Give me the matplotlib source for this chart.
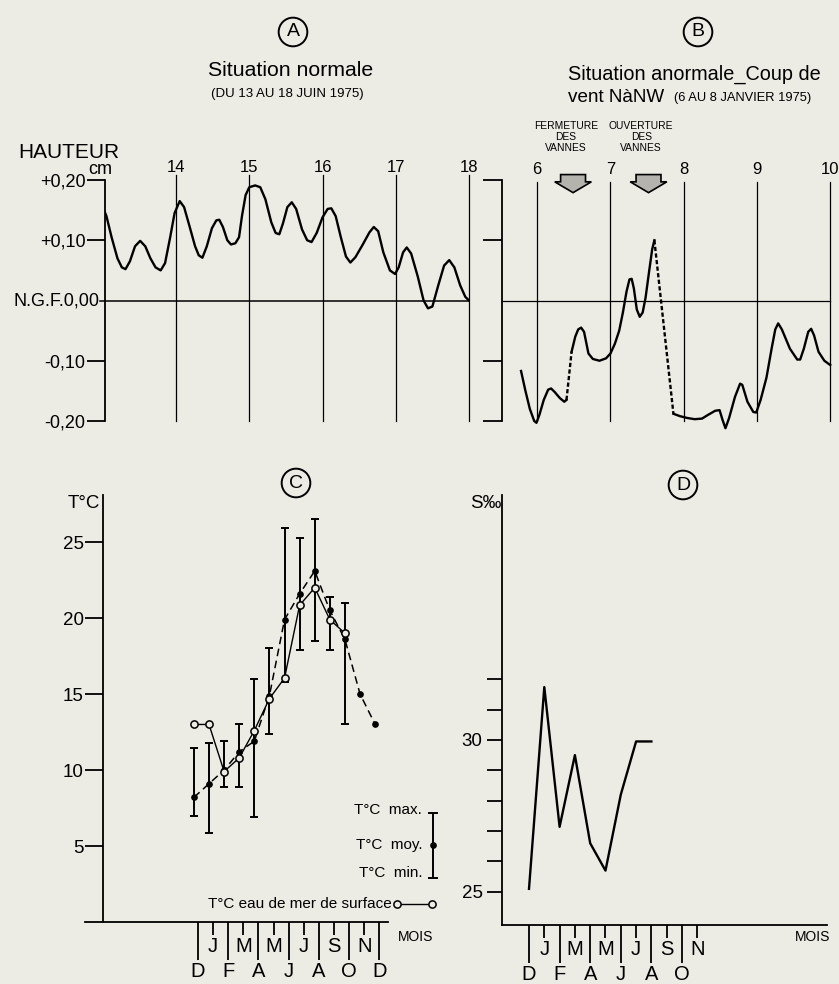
import numpy as np
import matplotlib.pyplot as plt
from matplotlib.patches import Polygon
from matplotlib.lines import Line2D

W, H = 839, 984
BG = '#ecebe4'
plt.rcParams['font.family'] = ['Liberation Sans', 'DejaVu Sans']

# --- A : situation normale (13-18 juin 1975), hauteur d'eau en m
a_day = [13.00, 13.05, 13.12, 13.20, 13.26, 13.31, 13.37, 13.44, 13.51, 13.58, 13.65, 13.72,
         13.79, 13.85, 13.92, 13.98, 14.05, 14.11, 14.18, 14.26, 14.31, 14.36, 14.42, 14.49,
         14.55, 14.59, 14.64, 14.70, 14.75, 14.81, 14.86, 14.90, 14.95, 15.00, 15.08, 15.15,
         15.22, 15.30, 15.36, 15.41, 15.46, 15.52, 15.58, 15.64, 15.72, 15.79, 15.85, 15.92,
         16.00, 16.07, 16.12, 16.18, 16.25, 16.32, 16.38, 16.45, 16.55, 16.64, 16.70, 16.76,
         16.83, 16.92, 16.99, 17.04, 17.10, 17.15, 17.21, 17.30, 17.38, 17.44, 17.50, 17.58,
         17.66, 17.73, 17.80, 17.88, 17.95, 18.00]
a_val = [0.155, 0.140, 0.105, 0.070, 0.055, 0.052, 0.065, 0.090, 0.099, 0.090, 0.070, 0.055,
         0.050, 0.062, 0.105, 0.145, 0.165, 0.155, 0.125, 0.090, 0.075, 0.071, 0.090, 0.120,
         0.133, 0.134, 0.122, 0.100, 0.093, 0.095, 0.105, 0.140, 0.175, 0.188, 0.191, 0.188,
         0.168, 0.130, 0.112, 0.110, 0.128, 0.155, 0.163, 0.152, 0.118, 0.100, 0.097, 0.112,
         0.138, 0.152, 0.153, 0.140, 0.105, 0.073, 0.063, 0.072, 0.093, 0.113, 0.122, 0.115,
         0.080, 0.050, 0.044, 0.055, 0.080, 0.088, 0.078, 0.040, 0.000, -0.013, -0.010, 0.025,
         0.058, 0.067, 0.055, 0.025, 0.006, 0.000]
a_days = [14, 15, 16, 17, 18]
h_ticks = [0.20, 0.10, -0.10, -0.20]
h_labels = ['+0,20', '+0,10', '-0,10', '-0,20']
h_zero_label = 'N.G.F.0,00'

# --- B : coup de vent N a NW (6-8 janvier 1975), three recorded pieces
b1_day = [5.78, 5.84, 5.90, 5.96, 5.99, 6.03, 6.09, 6.15, 6.19, 6.24, 6.31, 6.37, 6.40]
b1_val = [-0.117, -0.150, -0.180, -0.200, -0.203, -0.190, -0.165, -0.148, -0.146, -0.152,
          -0.162, -0.168, -0.165]
b2_day = [6.47, 6.52, 6.56, 6.60, 6.64, 6.67, 6.70, 6.76, 6.85, 6.94, 7.00, 7.06, 7.12,
          7.17, 7.22, 7.26, 7.29, 7.32, 7.36, 7.40, 7.44, 7.48, 7.53, 7.57, 7.60]
b2_val = [-0.085, -0.060, -0.048, -0.045, -0.052, -0.070, -0.088, -0.097, -0.100, -0.096,
          -0.088, -0.072, -0.050, -0.020, 0.015, 0.035, 0.036, 0.020, -0.015, -0.027,
          -0.020, 0.005, 0.050, 0.085, 0.100]
b3_day = [7.86, 7.95, 8.05, 8.15, 8.25, 8.33, 8.43, 8.49, 8.53, 8.57, 8.62, 8.70, 8.77,
          8.80, 8.87, 8.95, 8.99, 9.05, 9.13, 9.20, 9.25, 9.29, 9.34, 9.45, 9.55, 9.59,
          9.64, 9.70, 9.74, 9.78, 9.84, 9.92, 10.00]
b3_val = [-0.188, -0.192, -0.195, -0.197, -0.196, -0.190, -0.183, -0.182, -0.198, -0.212,
          -0.195, -0.160, -0.138, -0.140, -0.168, -0.185, -0.186, -0.165, -0.128, -0.080,
          -0.048, -0.038, -0.048, -0.080, -0.098, -0.098, -0.080, -0.052, -0.047, -0.058,
          -0.085, -0.100, -0.107]
b_days = [6, 7, 8, 9, 10]
vannes_day = [6.49, 7.52]
vannes_txt = ['FERMETURE\nDES\nVANNES', 'OUVERTURE\nDES\nVANNES']

# --- C : temperatures (mois, D = 0)
c_month = list(range(13))
c_mean = [8.2, 9.1, 10.0, 11.2, 11.9, 14.9, 19.9, 21.6, 23.1, 20.5, 18.6, 15.0, 13.0]
c_max = [11.45, 11.8, 11.9, 13.0, 16.0, 18.0, 25.9, 25.3, 26.5, 21.4, 21.0]
c_min = [7.0, 5.85, 8.9, 8.9, 6.9, 12.4, 15.8, 17.9, 18.5, 17.9, 13.0]
c_sea = [13.0, 13.0, 9.9, 10.8, 12.6, 14.7, 16.05, 20.85, 22.0, 19.9, 19.0]

# --- D : salinite
d_month = [0, 1, 2, 3, 4, 5, 6, 7, 8]
d_sal = [25.1, 31.74, 27.14, 29.5, 26.6, 25.7, 28.2, 29.95, 29.95]

month_major = ['D', 'F', 'A', 'J', 'A', 'O', 'D']
month_minor = ['J', 'M', 'M', 'J', 'S', 'N']

fig = plt.figure(figsize=(W / 100, H / 100), dpi=100, facecolor=BG)


def box(x0, y0, x1, y1):
    return [x0 / W, 1 - y1 / H, (x1 - x0) / W, (y1 - y0) / H]


def ftext(x, y, s, **kw):
    kw.setdefault('ha', 'center')
    kw.setdefault('va', 'center')
    fig.text(x / W, 1 - y / H, s, **kw)


def bare(ax):
    ax.set_facecolor('none')
    for s in ['top', 'right', 'bottom']:
        ax.spines[s].set_visible(False)
    ax.spines['left'].set_linewidth(1.3)


LW = 1.7
GL = 0.9

# ---------------- A
axA = fig.add_axes(box(105, 180, 469, 421))
bare(axA)
axA.set_xlim(13.03, 18.0)
axA.set_ylim(-0.2, 0.2)
axA.set_xticks([])
axA.set_yticks(h_ticks)
axA.set_yticklabels(h_labels)
axA.tick_params(axis='y', direction='out', length=13, width=1.3, pad=1, labelsize=13)
axA.plot([12.96, 18.0], [0, 0], color='k', lw=1.1, clip_on=False)
axA.text(12.95, 0, h_zero_label, ha='right', va='center', fontsize=13)
for d in a_days:
    axA.plot([d, d], [-0.2, 0.208], color='k', lw=GL, clip_on=False)
    axA.text(d, 0.221, str(d), ha='center', va='center', fontsize=12)
axA.plot(a_day, a_val, color='k', lw=LW, solid_joinstyle='round')

# ---------------- B
axB = fig.add_axes(box(502, 180, 839, 421))
bare(axB)
axB.set_xlim(5.52, 10.12)
axB.set_ylim(-0.2, 0.2)
axB.set_xticks([])
axB.set_yticks([0.2, 0.1, -0.1, -0.2])
axB.set_yticklabels([])
axB.tick_params(axis='y', direction='out', length=14, width=1.3)
axB.plot([5.52, 10.0], [0, 0], color='k', lw=GL)
for d in b_days:
    axB.plot([d, d], [-0.2, 0.197], color='k', lw=GL, clip_on=False)
    axB.text(d, 0.218, str(d), ha='center', va='center', fontsize=12, clip_on=False)
for xs, ys in [(b1_day, b1_val), (b2_day, b2_val), (b3_day, b3_val)]:
    axB.plot(xs, ys, color='k', lw=LW, solid_joinstyle='round', clip_on=False)
for (x0, y0), (x1, y1) in [((b1_day[-1], b1_val[-1]), (b2_day[0], b2_val[0])),
                           ((b2_day[-1], b2_val[-1]), (b3_day[0], b3_val[0]))]:
    axB.plot([x0, x1], [y0, y1], color='k', lw=LW, ls=(0, (1.8, 1.0)))
for xc, txt in zip(vannes_day, vannes_txt):
    sw, hw = 0.17, 0.25
    pts = [(xc - sw, 0.209), (xc + sw, 0.209), (xc + sw, 0.197), (xc + hw, 0.197),
           (xc, 0.179), (xc - hw, 0.197), (xc - sw, 0.197)]
    axB.add_patch(Polygon(pts, closed=True, fc='#b4b3ad', ec='k', lw=1.2, clip_on=False))
    axB.text(xc - 0.1, 0.272, txt, ha='center', va='center', fontsize=7.4,
             linespacing=1.12, clip_on=False)

# ---------------- C
axC = fig.add_axes(box(85, 495, 388, 922))
axC.set_facecolor('none')
for s in ['top', 'right']:
    axC.spines[s].set_visible(False)
axC.spines['left'].set_position(('axes', 0.0594))
axC.spines['left'].set_linewidth(1.3)
axC.spines['bottom'].set_linewidth(1.3)
axC.set_xlim(-7.48, 12.58)
axC.set_ylim(0, 28.1)
axC.set_yticks([5, 10, 15, 20, 25])
axC.tick_params(axis='y', direction='out', length=13, width=1.3, pad=1, labelsize=13.5)
axC.set_xticks(range(0, 13, 2))
axC.set_xticklabels(month_major)
axC.set_xticks(range(1, 12, 2), minor=True)
axC.set_xticklabels(month_minor, minor=True)
axC.tick_params(axis='x', which='major', direction='out', length=27, width=1.3, pad=2, labelsize=14.5)
axC.tick_params(axis='x', which='minor', direction='out', length=9.5, width=1.3, pad=1, labelsize=14.5)

xc = np.array(c_month) - 0.27
n = len(c_max)
lo = np.array(c_mean[:n]) - np.array(c_min)
hi = np.array(c_max) - np.array(c_mean[:n])
axC.errorbar(xc[:n], c_mean[:n], yerr=[lo, hi], fmt='none', ecolor='k', elinewidth=1.4,
             capsize=3.2, capthick=1.4)
axC.plot(xc, c_mean, color='k', lw=1.1, ls=(0, (5, 3)), marker='o', ms=3.8, mfc='k', mec='k')
axC.plot(xc[:n], c_sea, color='k', lw=1.0, marker='o', ms=5.2, mfc=BG, mec='k', mew=1.1, zorder=5)

# ---------------- D
axD = fig.add_axes(box(502, 495, 827, 925))
axD.set_facecolor('none')
for s in ['top', 'right']:
    axD.spines[s].set_visible(False)
axD.spines['left'].set_linewidth(1.3)
axD.spines['bottom'].set_linewidth(1.3)
axD.set_xlim(-1.765, 19.48)
axD.set_ylim(23.91, 38.06)
axD.set_yticks([25, 30])
axD.set_yticks([26, 27, 28, 29, 31, 32], minor=True)
axD.tick_params(axis='y', which='both', direction='out', length=11, width=1.3, pad=3, labelsize=13.5)
axD.set_xticks(range(0, 12, 2))
axD.set_xticklabels(month_major[:6])
axD.set_xticks(range(1, 12, 2), minor=True)
axD.set_xticklabels(month_minor, minor=True)
axD.tick_params(axis='x', which='major', direction='out', length=27, width=1.3, pad=2, labelsize=14.5)
axD.tick_params(axis='x', which='minor', direction='out', length=9.5, width=1.3, pad=1, labelsize=14.5)
axD.plot(d_month, d_sal, color='k', lw=1.7)

# ---------------- texts
circ = dict(boxstyle='circle,pad=0.3', fc='none', ec='k', lw=1.4)
for x, y, s in [(293, 32, 'A'), (698, 32, 'B'), (296, 483, 'C'), (683, 485, 'D')]:
    ftext(x, y, s, fontsize=14, bbox=circ)

ftext(291, 71, 'Situation normale', fontsize=15.3)
ftext(287, 94, '(DU 13 AU 18 JUIN 1975)', fontsize=9.5)
ftext(568, 74, 'Situation anormale_Coup de', fontsize=14.3, ha='left')
ftext(568, 97, 'vent NàNW', fontsize=13.6, ha='left')
ftext(674, 98, '(6 AU 8 JANVIER 1975)', fontsize=9.3, ha='left')

ftext(18, 153, 'HAUTEUR', fontsize=15, ha='left')
ftext(100, 170, 'cm', fontsize=13)
ftext(100, 503, 'T°C', fontsize=13.5, ha='right')
ftext(501, 503, 'S‰', fontsize=13.5, ha='right')
ftext(398, 937, 'MOIS', fontsize=10, ha='left')
ftext(830, 937, 'MOIS', fontsize=10, ha='right')

# legend of C
ftext(422, 810, 'T°C  max.', fontsize=11, ha='right')
ftext(422, 845, 'T°C  moy.', fontsize=11, ha='right')
ftext(422, 873, 'T°C  min.', fontsize=11, ha='right')
ftext(392, 904, 'T°C eau de mer de surface', fontsize=11, ha='right')


def fl(xs, ys, **kw):
    fig.add_artist(Line2D([x / W for x in xs], [1 - y / H for y in ys], color='k', **kw))


fl([433, 433], [813, 878], lw=1.4)
fl([429, 437], [813, 813], lw=1.4)
fl([429, 437], [878, 878], lw=1.4)
fl([433], [845], marker='o', ms=3.8, ls='none')
fl([397, 432], [904, 904], lw=1.0, marker='o', ms=5.2, mfc=BG, mew=1.1)

fig.savefig('out.png', dpi=100, facecolor=BG)
